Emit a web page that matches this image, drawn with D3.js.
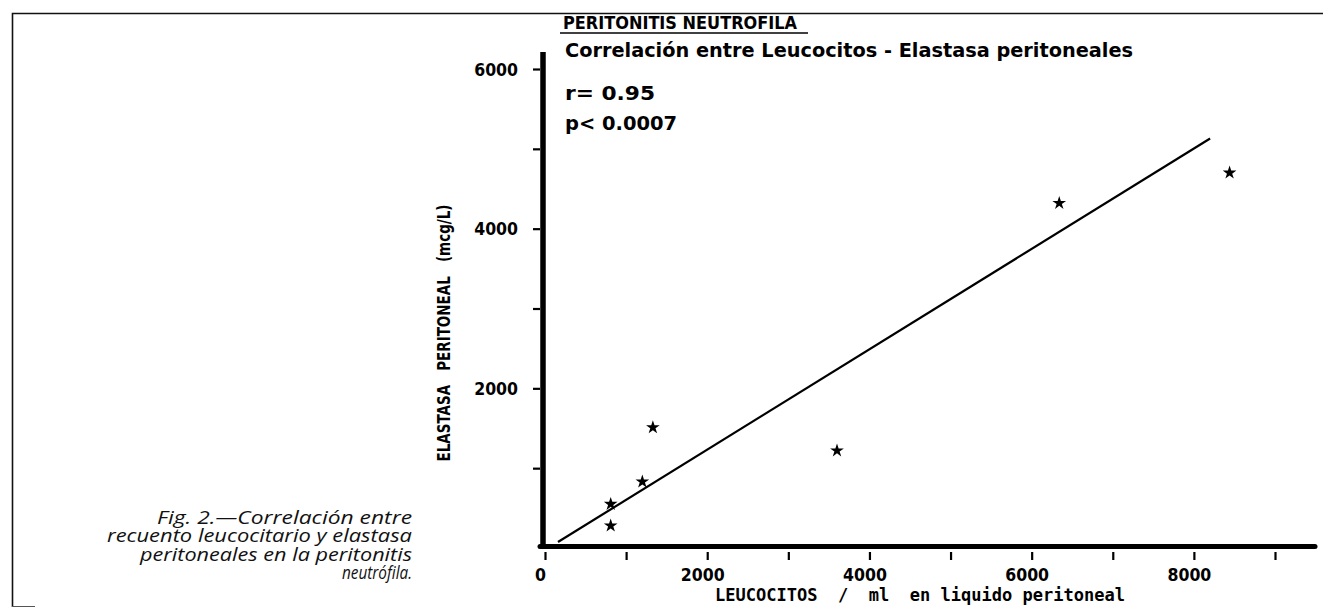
<!DOCTYPE html>
<html>
<head>
<meta charset="utf-8">
<script src="https://cdn.jsdelivr.net/npm/d3@7"></script>
<style>
  body { margin: 0; background: #fff; }
  text { white-space: pre; }
</style>
</head>
<body>
<div id="chart"></div>
<script>
// Values
const leucocitos = [810, 810, 1200, 1330, 3600, 6340, 8440];
const elastasa = [280, 550, 830, 1510, 1220, 4320, 4700];
const fitX = [160, 8200];
const fitY = [75, 5130];
const xTicks = [0, 1000, 2000, 3000, 4000, 5000, 6000, 7000, 8000, 9000];
const yTicks = [1000, 2000, 3000, 4000, 5000, 6000];
const caption = [
  'Fig. 2.\u2014Correlación entre',
  'recuento leucocitario y elastasa',
  'peritoneales en la peritonitis',
  'neutrófila.'
];
const captionWidths = [255, 305, 272, 70];

const W = 1323, H = 608;
const cond = '"DejaVu Sans Condensed", "DejaVu Sans", sans-serif';

const svg = d3.select('#chart')
  .append('svg')
  .attr('width', W)
  .attr('height', H)
  .style('display', 'block');

const x = d3.scaleLinear().domain([0, 9000]).range([545, 1275]);
const y = d3.scaleLinear().domain([0, 6000]).range([548, 69]);

// page border (scan frame)
svg.append('path')
  .attr('d', `M12.5,607 V13.5 H${W}`)
  .attr('fill', 'none')
  .attr('stroke', '#111')
  .attr('stroke-width', 1.6);
svg.append('line')
  .attr('x1', 12).attr('x2', 35).attr('y1', 606.5).attr('y2', 606.5)
  .attr('stroke', '#555').attr('stroke-width', 1);

// axes ticks
const xAxis = svg.append('g')
  .attr('transform', 'translate(0,552)')
  .call(d3.axisBottom(x).tickValues(xTicks).tickSize(8)
    .tickFormat(d => d % 2000 === 0 ? d : ''));
xAxis.select('.domain').remove();
xAxis.selectAll('line').attr('stroke', '#000').attr('stroke-width', 2.2);
xAxis.selectAll('text')
  .attr('y', 29).attr('dy', 0).attr('dx', -5)
  .attr('fill', '#000')
  .style('font-family', cond).style('font-weight', 'bold').style('font-size', '17.5px');

const yAxis = svg.append('g')
  .attr('transform', 'translate(540,0)')
  .call(d3.axisLeft(y).tickValues(yTicks).tickSize(7)
    .tickFormat(d => d % 2000 === 0 ? d : ''));
yAxis.select('.domain').remove();
yAxis.selectAll('line').attr('stroke', '#000').attr('stroke-width', 2.2);
yAxis.selectAll('text')
  .attr('x', -22).attr('dy', '0.36em')
  .attr('fill', '#000')
  .style('font-family', cond).style('font-weight', 'bold').style('font-size', '17.5px');

// thick axis lines
svg.append('line')
  .attr('x1', x(0) - 2).attr('x2', x(0) - 2)
  .attr('y1', 52).attr('y2', y(0) + 1)
  .attr('stroke', '#000').attr('stroke-width', 5.5);
svg.append('line')
  .attr('x1', x(0) - 5).attr('x2', 1315)
  .attr('y1', 546.5).attr('y2', 546.5)
  .attr('stroke', '#000').attr('stroke-width', 5)
  .attr('stroke-linecap', 'round');

// regression line
svg.append('line')
  .attr('x1', x(fitX[0])).attr('y1', y(fitY[0]))
  .attr('x2', x(fitX[1])).attr('y2', y(fitY[1]))
  .attr('stroke', '#000').attr('stroke-width', 2.2);

// points
const star = d3.symbol().type(d3.symbolStar).size(58);
svg.selectAll('path.pt')
  .data(leucocitos.map((v, i) => [v, elastasa[i]]))
  .enter()
  .append('path')
  .attr('class', 'pt')
  .attr('d', star)
  .attr('transform', d => `translate(${x(d[0])},${y(d[1])})`)
  .attr('fill', '#000');

// title and annotations
svg.append('text')
  .attr('x', 563).attr('y', 29)
  .attr('textLength', 234).attr('lengthAdjust', 'spacingAndGlyphs')
  .style('font-family', cond).style('font-weight', 'bold').style('font-size', '17.5px')
  .text('PERITONITIS NEUTROFILA');
svg.append('line')
  .attr('x1', 560).attr('x2', 808).attr('y1', 33).attr('y2', 33)
  .attr('stroke', '#000').attr('stroke-width', 1.5);

const notes = [
  { t: 'Correlación entre Leucocitos - Elastasa peritoneales', y: 57, w: 568 },
  { t: 'r= 0.95', y: 100, w: 90 },
  { t: 'p< 0.0007', y: 130, w: 112 }
];
svg.selectAll('text.note')
  .data(notes)
  .enter()
  .append('text')
  .attr('class', 'note')
  .attr('x', 565).attr('y', d => d.y)
  .attr('textLength', d => d.w).attr('lengthAdjust', 'spacingAndGlyphs')
  .style('font-family', cond).style('font-weight', 'bold').style('font-size', '19px')
  .text(d => d.t);

// axis titles
svg.append('text')
  .attr('x', 715).attr('y', 601)
  .attr('textLength', 410).attr('lengthAdjust', 'spacingAndGlyphs')
  .style('font-family', '"DejaVu Sans Mono", "Liberation Mono", monospace')
  .style('font-weight', 'bold').style('font-size', '17px')
  .text('LEUCOCITOS  /  ml  en liquido peritoneal');

svg.append('text')
  .attr('transform', 'translate(450,333) rotate(-90)')
  .attr('text-anchor', 'middle')
  .attr('textLength', 257).attr('lengthAdjust', 'spacingAndGlyphs')
  .style('font-family', cond).style('font-weight', 'bold').style('font-size', '17.5px')
  .text('ELASTASA   PERITONEAL   (mcg/L)');

// caption
svg.selectAll('text.cap')
  .data(caption)
  .enter()
  .append('text')
  .attr('class', 'cap')
  .attr('x', 412)
  .attr('y', (d, i) => 524 + i * 18.4)
  .attr('text-anchor', 'end')
  .attr('textLength', (d, i) => captionWidths[i])
  .attr('lengthAdjust', 'spacingAndGlyphs')
  .style('font-family', '"Open Sans", "Noto Sans", sans-serif')
  .style('font-style', 'italic').style('font-size', '18px')
  .attr('fill', '#111')
  .text(d => d);
</script>
</body>
</html>
